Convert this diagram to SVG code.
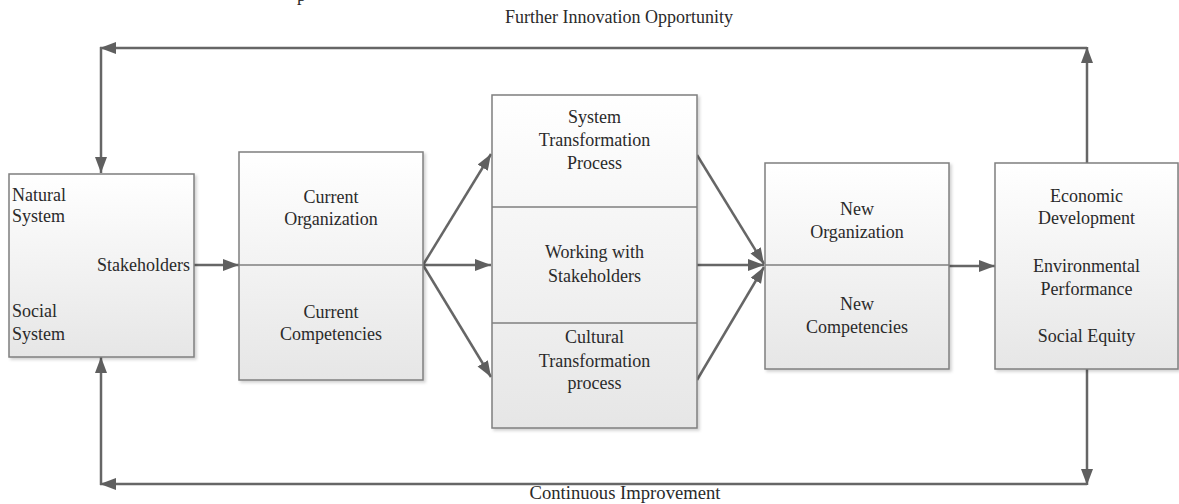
<svg xmlns="http://www.w3.org/2000/svg" width="1179" height="504" viewBox="0 0 1179 504">
<style>
.box{fill:url(#g);stroke:#7f7f7f;stroke-width:1.5}
.div{stroke:#7f7f7f;stroke-width:1.5}
.c{fill:none;stroke:#666;stroke-width:2.5}
text{font-family:"Liberation Serif","Times New Roman",serif;font-size:18px;fill:#2a2a2a}
.m{text-anchor:middle}
</style>
<defs>
<linearGradient id="g" x1="0" y1="0" x2="0" y2="1">
<stop offset="0" stop-color="#ffffff"/>
<stop offset="1" stop-color="#e6e6e6"/>
</linearGradient>
<filter id="sh" x="-5%" y="-5%" width="115%" height="115%">
<feDropShadow dx="2" dy="2" stdDeviation="1.5" flood-color="#000" flood-opacity="0.18"/>
</filter>
<marker id="a" markerUnits="userSpaceOnUse" markerWidth="18" markerHeight="14" refX="16" refY="6" orient="auto">
<path d="M0,0 L16,6 L0,12 Z" fill="#5f5f5f"/>
</marker>
</defs>
<rect width="1179" height="504" fill="#fff"/>
<text x="297" y="1">p</text>
<text class="m" x="619" y="23">Further Innovation Opportunity</text>
<text class="m" x="625" y="499" textLength="191" lengthAdjust="spacingAndGlyphs">Continuous Improvement</text>

<g id="connectors">
<line class="c" x1="1087" y1="48" x2="100" y2="48" marker-end="url(#a)"/>
<line class="c" x1="101" y1="47" x2="101" y2="173" marker-end="url(#a)"/>
<line class="c" x1="1087" y1="163" x2="1087" y2="47" marker-end="url(#a)"/>
<line class="c" x1="101" y1="485" x2="101" y2="357" marker-end="url(#a)"/>
<line class="c" x1="1087" y1="369" x2="1087" y2="485" marker-end="url(#a)"/>
<line class="c" x1="1087" y1="484" x2="100" y2="484" marker-end="url(#a)"/>
<line class="c" x1="194" y1="265" x2="239" y2="265" marker-end="url(#a)"/>
<line class="c" x1="423" y1="265" x2="491" y2="154" marker-end="url(#a)"/>
<line class="c" x1="423" y1="265" x2="491" y2="265" marker-end="url(#a)"/>
<line class="c" x1="423" y1="265" x2="491" y2="377" marker-end="url(#a)"/>
<line class="c" x1="697" y1="155" x2="764" y2="264" marker-end="url(#a)"/>
<line class="c" x1="697" y1="265" x2="764" y2="265" marker-end="url(#a)"/>
<line class="c" x1="697" y1="380" x2="764" y2="267" marker-end="url(#a)"/>
<line class="c" x1="949" y1="266" x2="995" y2="266" marker-end="url(#a)"/>
</g>

<g id="n-stakeholders">
<rect class="box" x="9" y="174" width="185" height="183" filter="url(#sh)"/>
<text x="12" y="201">Natural</text>
<text x="12" y="222">System</text>
<text x="190" y="271" text-anchor="end">Stakeholders</text>
<text x="12" y="317">Social</text>
<text x="12" y="340">System</text>
</g>

<g id="n-current">
<rect class="box" x="239" y="152" width="184" height="228" filter="url(#sh)"/>
<line class="div" x1="239" y1="265" x2="423" y2="265"/>
<text class="m" x="331" y="203">Current</text>
<text class="m" x="331" y="225">Organization</text>
<text class="m" x="331" y="318">Current</text>
<text class="m" x="331" y="340">Competencies</text>
</g>

<g id="n-process">
<rect class="box" x="492" y="95" width="205" height="333" filter="url(#sh)"/>
<line class="div" x1="492" y1="207" x2="697" y2="207"/>
<line class="div" x1="492" y1="323" x2="697" y2="323"/>
<text class="m" x="594.5" y="123">System</text>
<text class="m" x="594.5" y="146">Transformation</text>
<text class="m" x="594.5" y="169">Process</text>
<text class="m" x="594.5" y="258">Working with</text>
<text class="m" x="594.5" y="282">Stakeholders</text>
<text class="m" x="594.5" y="343">Cultural</text>
<text class="m" x="594.5" y="367">Transformation</text>
<text class="m" x="594.5" y="389">process</text>
</g>

<g id="n-new">
<rect class="box" x="765" y="163" width="184" height="206" filter="url(#sh)"/>
<line class="div" x1="765" y1="265" x2="949" y2="265"/>
<text class="m" x="857" y="215">New</text>
<text class="m" x="857" y="238">Organization</text>
<text class="m" x="857" y="310">New</text>
<text class="m" x="857" y="333">Competencies</text>
</g>

<g id="n-outcomes">
<rect class="box" x="995" y="163" width="183" height="206" filter="url(#sh)"/>
<text class="m" x="1086.5" y="202">Economic</text>
<text class="m" x="1086.5" y="224">Development</text>
<text class="m" x="1086.5" y="272">Environmental</text>
<text class="m" x="1086.5" y="295">Performance</text>
<text class="m" x="1086.5" y="342">Social Equity</text>
</g>
</svg>
